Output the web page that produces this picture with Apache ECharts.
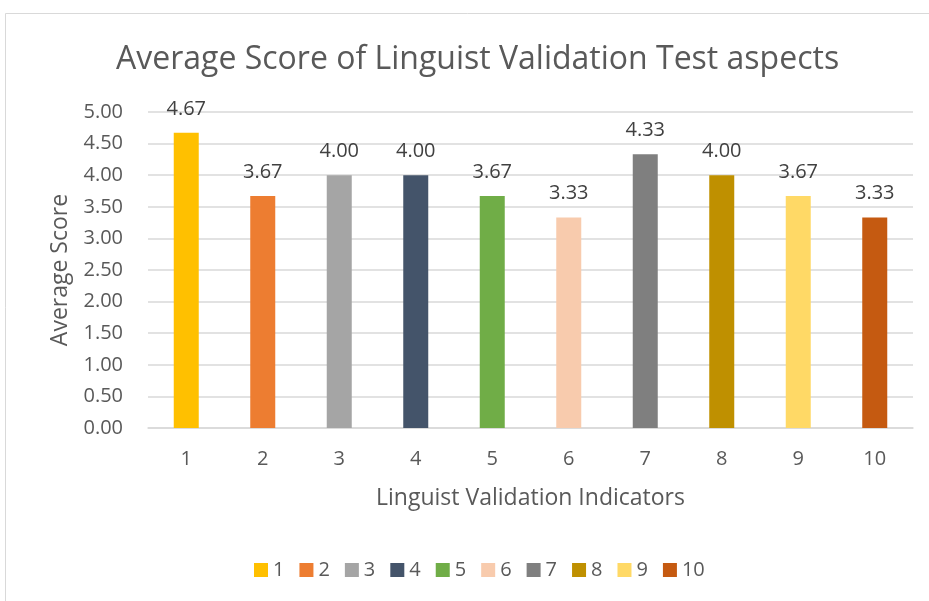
<!DOCTYPE html>
<html>
<head>
<meta charset="utf-8">
<script src="https://cdn.jsdelivr.net/npm/echarts@6/dist/echarts.min.js"></script>
<style>
  html, body { margin: 0; padding: 0; background: #fff; }
  #main { width: 929px; height: 601px; }
</style>
</head>
<body>
<div id="main"></div>
<script>
// chart data
var categories = ['1', '2', '3', '4', '5', '6', '7', '8', '9', '10'];
var scores = [4.67, 3.67, 4.00, 4.00, 3.67, 3.33, 4.33, 4.00, 3.67, 3.33];
var barColors = ['#FFC000', '#ED7D31', '#A5A5A5', '#44546A', '#70AD47',
                 '#F8CBAD', '#7F7F7F', '#BF9000', '#FFD966', '#C55A11'];
var yTicks = { min: 0, max: 5, step: 0.5 };

var FONT = '"Open Sans", sans-serif';

// one series per indicator so each gets its own legend entry
var series = categories.map(function (name, i) {
    var data = categories.map(function (c, j) { return j === i ? scores[i] : null; });
    return {
        name: name,
        type: 'bar',
        stack: 'all',
        barWidth: 25,
        data: data,
        itemStyle: { color: barColors[i] },
        label: {
            show: true,
            position: 'top',
            distance: 14,
            formatter: function (p) { return p.value == null ? '' : p.value.toFixed(2); },
            color: '#404040',
            fontFamily: FONT,
            fontSize: 20
        }
    };
});

var chart = echarts.init(document.getElementById('main'));
chart.setOption({
    backgroundColor: '#fff',
    animation: false,
    graphic: [{
        type: 'rect',
        shape: { x: 5.5, y: 13.5, width: 940, height: 600 },
        style: { fill: 'none', stroke: '#D9D9D9', lineWidth: 1 },
        silent: true
    }],
    title: {
        text: 'Average Score of Linguist Validation Test aspects',
        left: 111,
        top: 39,
        textStyle: { fontFamily: FONT, fontSize: 32, fontWeight: 'normal', color: '#595959' }
    },
    legend: {
        data: categories,
        bottom: 16,
        left: 249,
        itemWidth: 14,
        itemHeight: 14,
        itemGap: 15,
        icon: 'rect',
        textStyle: { fontFamily: FONT, fontSize: 20, color: '#595959' }
    },
    grid: { left: 148, right: 16, top: 112, bottom: 173, containLabel: false },
    xAxis: {
        type: 'category',
        data: categories,
        name: 'Linguist Validation Indicators',
        nameLocation: 'middle',
        nameGap: 59,
        nameTextStyle: { fontFamily: FONT, fontSize: 23, color: '#595959' },
        axisLine: { lineStyle: { color: '#D9D9D9', width: 1.5 } },
        axisTick: { show: false },
        axisLabel: { fontFamily: FONT, fontSize: 20, color: '#595959', margin: 21 }
    },
    yAxis: {
        type: 'value',
        min: yTicks.min,
        max: yTicks.max,
        interval: yTicks.step,
        name: 'Average Score',
        nameLocation: 'middle',
        nameGap: 76,
        nameTextStyle: { fontFamily: FONT, fontSize: 23, color: '#595959' },
        axisLine: { show: false },
        axisTick: { show: false },
        splitLine: { lineStyle: { color: '#D9D9D9', width: 1.5 } },
        axisLabel: {
            fontFamily: FONT, fontSize: 20, color: '#595959', margin: 25,
            formatter: function (v) { return v.toFixed(2); }
        }
    },
    series: series
});
</script>
</body>
</html>
